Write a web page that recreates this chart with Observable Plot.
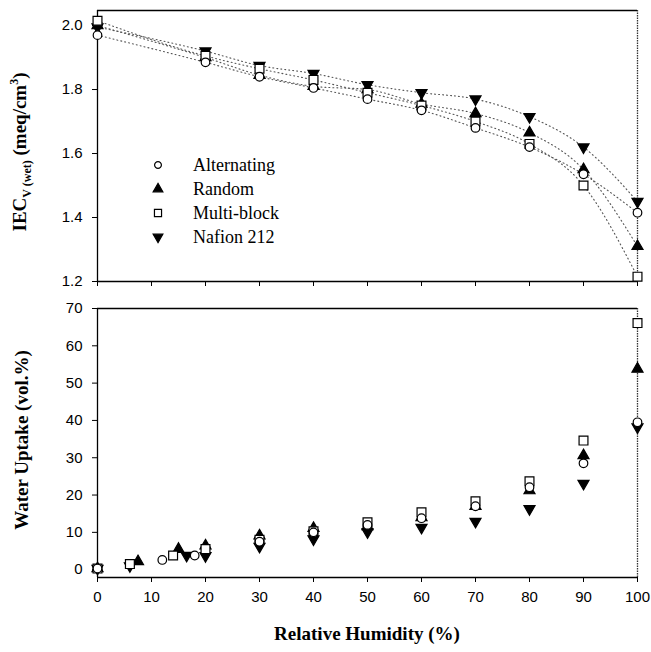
<!DOCTYPE html>
<html>
<head>
<meta charset="utf-8">
<script src="https://cdn.jsdelivr.net/npm/d3@7"></script>
<script src="https://cdn.jsdelivr.net/npm/@observablehq/plot@0.6"></script>
<style>
  html, body { margin: 0; padding: 0; background: #fff; }
  #chart { position: relative; width: 651px; height: 652px; }
  #top, #bottom { position: absolute; left: 0; }
  #top { top: 0; }
  #bottom { top: 290px; }
  text.serif { font-family: "Liberation Serif", "Times New Roman", Times, serif !important; }
</style>
</head>
<body>
<div id="chart"><div id="top"></div><div id="bottom"></div></div>
<script>
// ---- Data ----
const seriesNames = ["Alternating", "Random", "Multi-block", "Nafion 212"];
const rhTicks = [0, 10, 20, 30, 40, 50, 60, 70, 80, 90, 100];
const iecTicks = [1.2, 1.4, 1.6, 1.8, 2.0];
const wuTicks = [0, 10, 20, 30, 40, 50, 60, 70];

// Top panel: volumetric IEC (wet)
const iecRH = [0, 20, 30, 40, 50, 60, 70, 80, 90, 100];
const iecAlternating = [1.97, 1.885, 1.84, 1.805, 1.77, 1.735, 1.68, 1.62, 1.535, 1.415];
const iecRandom      = [2.00, 1.90, 1.845, 1.81, 1.80, 1.755, 1.725, 1.665, 1.55, 1.31];
const iecMultiBlock  = [2.015, 1.905, 1.865, 1.83, 1.79, 1.75, 1.70, 1.63, 1.50, 1.215];
const iecNafion      = [1.995, 1.92, 1.875, 1.85, 1.815, 1.79, 1.77, 1.715, 1.62, 1.45];

// Bottom panel: water uptake (vol.%)
const wuAlternatingRH = [0, 12, 18, 30, 40, 50, 60, 70, 80, 90, 100];
const wuAlternating   = [0.3, 2.6, 3.8, 7.5, 10.0, 12.0, 13.8, 17.0, 22.1, 28.5, 39.5];
const wuRandomRH      = [0, 7.5, 15, 20, 30, 40, 50, 60, 70, 80, 90, 100];
const wuRandom        = [0.3, 2.2, 5.5, 6.4, 9.1, 11.1, 11.6, 14.0, 17.0, 21.2, 30.6, 53.8];
const wuMultiBlockRH  = [0, 6, 14, 20, 30, 40, 50, 60, 70, 80, 90, 100];
const wuMultiBlock    = [0.3, 1.5, 3.8, 5.5, 8.0, 10.3, 12.7, 15.4, 18.3, 23.7, 34.6, 66.1];
const wuNafionRH      = [0, 6, 16.5, 20, 30, 40, 50, 60, 70, 80, 90, 100];
const wuNafion        = [0.3, 1.0, 3.8, 3.7, 6.2, 8.2, 10.1, 11.3, 12.9, 16.3, 23.1, 38.2];

// ---- Helpers ----
const sqrt3 = Math.sqrt(3);
const triangleDown = {
  draw(context, size) {
    const y = -Math.sqrt(size / (sqrt3 * 3));
    context.moveTo(0, -y * 2);
    context.lineTo(-sqrt3 * y, y);
    context.lineTo(sqrt3 * y, y);
    context.closePath();
  }
};
const styles = [
  {symbol: "circle", fill: "white", stroke: "black", r: 4.3},
  {symbol: "triangle", fill: "black", stroke: "black", r: 4.1},
  {symbol: "square", fill: "white", stroke: "black", r: 5},
  {symbol: triangleDown, fill: "black", stroke: "black", r: 4.1}
];
const toRows = (xs, ys) => xs.map((x, i) => ({x, y: ys[i]}));
const iecData = [iecAlternating, iecRandom, iecMultiBlock, iecNafion].map(ys => toRows(iecRH, ys));
const wuData = [
  toRows(wuAlternatingRH, wuAlternating),
  toRows(wuRandomRH, wuRandom),
  toRows(wuMultiBlockRH, wuMultiBlock),
  toRows(wuNafionRH, wuNafion)
];
const drawOrder = [3, 1, 2, 0];
const dotMarks = (data) => drawOrder.map(i => Plot.dot(data[i], {
  x: "x", y: "y", symbol: styles[i].symbol, r: styles[i].r,
  fill: styles[i].fill, stroke: styles[i].stroke, strokeWidth: 1.2
}));
const tickFont = {fontSize: 15, fontFamily: "Liberation Sans, Arial, sans-serif"};

// ---- Top panel ----
const topPlot = Plot.plot({
  width: 651, height: 290,
  marginLeft: 97, marginRight: 14, marginTop: 10, marginBottom: 9,
  style: {background: "white", color: "black"},
  x: {domain: [0, 100]},
  y: {domain: [1.2, 2.047]},
  marks: [
    ...iecData.map(d => Plot.line(d, {x: "x", y: "y", curve: "monotone-x",
      stroke: "#555", strokeWidth: 1.1, strokeDasharray: "1,3"})),
    Plot.ruleX([0], {stroke: "black", strokeWidth: 1.3}),
    Plot.ruleX([100], {stroke: "#333", strokeWidth: 1.3, strokeDasharray: "1.5,1"}),
    Plot.ruleY([1.2], {stroke: "black", strokeWidth: 1.3}),
    Plot.ruleY([2.047], {stroke: "black", strokeWidth: 1.3}),
    Plot.axisY({ticks: iecTicks, tickFormat: d3.format(".1f"), tickSize: 5, tickPadding: 10, label: null, ...tickFont}),
    Plot.axisX({ticks: rhTicks, tickFormat: () => "", tickSize: 5, label: null}),
    ...dotMarks(iecData)
  ]
});
document.getElementById("top").appendChild(topPlot);

// ---- Bottom panel ----
const bottomPlot = Plot.plot({
  width: 651, height: 362,
  marginLeft: 97, marginRight: 14, marginTop: 18, marginBottom: 75,
  style: {background: "white", color: "black"},
  x: {domain: [0, 100]},
  y: {domain: [-2.1, 70]},
  marks: [
    Plot.ruleX([0], {stroke: "black", strokeWidth: 1.3}),
    Plot.ruleX([100], {stroke: "#333", strokeWidth: 1.3, strokeDasharray: "1.5,1"}),
    Plot.ruleY([-2.1], {stroke: "black", strokeWidth: 1.3}),
    Plot.ruleY([70], {stroke: "black", strokeWidth: 1.3}),
    Plot.axisY({ticks: wuTicks, tickSize: 5, tickPadding: 10, label: null, ...tickFont}),
    Plot.axisX({ticks: rhTicks, tickSize: 5, tickPadding: 9, label: null, ...tickFont}),
    ...dotMarks(wuData)
  ]
});
document.getElementById("bottom").appendChild(bottomPlot);

// ---- Axis titles ----
const topSvg = d3.select(topPlot.tagName.toLowerCase() === "svg" ? topPlot : topPlot.querySelector("svg"));
const botSvg = d3.select(bottomPlot.tagName.toLowerCase() === "svg" ? bottomPlot : bottomPlot.querySelector("svg"));

const t1 = topSvg.append("text").attr("class", "serif")
  .attr("transform", "translate(26,152) rotate(-90)")
  .attr("text-anchor", "middle")
  .style("font-weight", "bold").style("font-size", "19px")
  .attr("fill", "black");
t1.append("tspan").text("IEC");
t1.append("tspan").style("font-size", "12px").attr("dy", 5).text("V (wet)");
t1.append("tspan").attr("dy", -5).text(" (meq/cm");
t1.append("tspan").style("font-size", "12px").attr("dy", -8).text("3");
t1.append("tspan").attr("dy", 8).text(")");

botSvg.append("text").attr("class", "serif")
  .attr("transform", "translate(28,150) rotate(-90)")
  .attr("text-anchor", "middle")
  .style("font-weight", "bold").style("font-size", "19px")
  .attr("fill", "black")
  .text("Water Uptake (vol.%)");

botSvg.append("text").attr("class", "serif")
  .attr("x", 367).attr("y", 350)
  .attr("text-anchor", "middle")
  .style("font-weight", "bold").style("font-size", "19px")
  .attr("fill", "black")
  .text("Relative Humidity (%)");

// ---- Legend ----
const legendYs = [165, 189, 213, 237];
seriesNames.forEach((name, i) => {
  const s = styles[i];
  const sym = typeof s.symbol === "string"
    ? {circle: d3.symbolCircle, triangle: d3.symbolTriangle, square: d3.symbolSquare}[s.symbol]
    : s.symbol;
  const size = (i === 0 ? 3.4 : i === 2 ? 4.0 : 3.6) ** 2 * Math.PI;
  topSvg.append("path")
    .attr("d", d3.symbol(sym, size)())
    .attr("transform", `translate(158,${legendYs[i]})`)
    .attr("fill", s.fill).attr("stroke", "black").attr("stroke-width", 1.2);
  topSvg.append("text").attr("class", "serif")
    .attr("x", 193).attr("y", legendYs[i]).attr("dy", "0.35em")
    .attr("text-anchor", "start")
    .style("font-size", "18px").style("font-weight", "normal")
    .attr("fill", "black")
    .text(name);
});
</script>
</body>
</html>
